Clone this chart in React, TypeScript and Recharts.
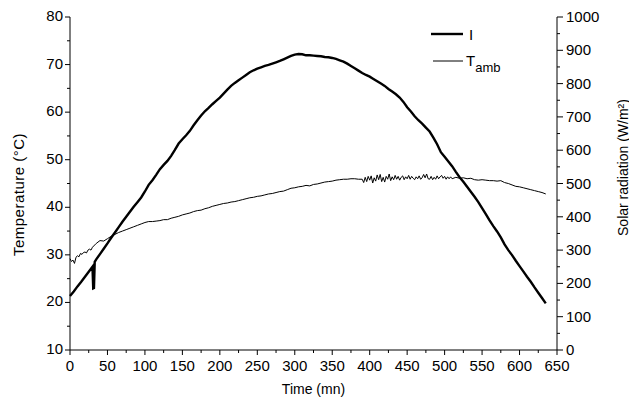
import { LineChart, Line, XAxis, YAxis, Label, Legend } from 'recharts';

const FONT = '"Liberation Sans", Arial, sans-serif';

// solar radiation I (W/m2), right axis
const I_TIME = [
  0, 5, 10, 15, 20, 25, 30, 31, 32, 33,
  35, 40, 45, 50, 55, 60, 65, 70, 75, 80,
  85, 90, 95, 100, 105, 110, 115, 120, 125, 130,
  135, 140, 145, 150, 155, 160, 165, 170, 175, 180,
  185, 190, 195, 200, 205, 210, 215, 220, 225, 230,
  235, 240, 245, 250, 255, 260, 265, 270, 275, 280,
  285, 290, 295, 300, 305, 310, 315, 320, 325, 330,
  335, 340, 345, 350, 355, 360, 365, 370, 375, 380,
  385, 390, 395, 400, 405, 410, 415, 420, 425, 430,
  435, 440, 445, 450, 455, 460, 465, 470, 475, 480,
  485, 490, 495, 500, 505, 510, 515, 520, 525, 530,
  535, 540, 545, 550, 555, 560, 565, 570, 575, 580,
  585, 590, 595, 600, 605, 610, 615, 620, 625, 630,
  635,
];
const IRRADIANCE = [
  162, 176, 191, 205, 220, 235, 250, 185, 186, 265,
  272, 288, 304, 320, 337, 353, 369, 385, 400, 415,
  430, 444, 458, 476, 496, 510, 526, 543, 556, 568,
  583, 601, 620, 633, 645, 658, 675, 690, 704, 717,
  727, 738, 748, 758, 770, 782, 793, 802, 810, 818,
  826, 834, 840, 845, 849, 853, 856, 860, 864, 868,
  873, 878, 883, 887, 889, 888, 885, 885, 884, 883,
  882, 880, 879, 877, 874, 870, 866, 860, 853, 846,
  839, 832, 826, 821, 814, 807, 800, 793, 784, 776,
  768, 758, 745, 729, 716, 702, 690, 680, 668, 656,
  638, 618, 594, 580, 566, 552, 535, 519, 505, 490,
  475, 460, 444, 426, 408, 389, 372, 356, 338, 317,
  300, 285, 268, 252, 236, 220, 205, 188, 172, 156,
  140,
];

// ambient temperature T_amb (°C), left axis
const TAMB_TIME = [
  0, 2, 4, 6, 8, 10, 12, 14, 16, 18,
  20, 22, 24, 26, 28, 30, 35, 40, 45, 50,
  55, 60, 65, 70, 75, 80, 85, 90, 95, 100,
  105, 110, 115, 120, 125, 130, 135, 140, 145, 150,
  155, 160, 165, 170, 175, 180, 185, 190, 195, 200,
  205, 210, 215, 220, 225, 230, 235, 240, 245, 250,
  255, 260, 265, 270, 275, 280, 285, 290, 295, 300,
  305, 310, 315, 320, 325, 330, 335, 340, 345, 350,
  355, 360, 365, 370, 375, 380, 385, 390, 392, 394,
  396, 398, 400, 402, 404, 406, 408, 410, 412, 414,
  416, 418, 420, 422, 424, 426, 428, 430, 432, 434,
  436, 438, 440, 442, 444, 446, 448, 450, 452, 454,
  456, 458, 460, 462, 464, 466, 468, 470, 472, 474,
  476, 478, 480, 482, 484, 486, 488, 490, 492, 494,
  496, 498, 500, 502, 504, 506, 508, 510, 515, 520,
  525, 530, 535, 540, 545, 550, 555, 560, 565, 570,
  575, 580, 585, 590, 595, 600, 605, 610, 615, 620,
  625, 630, 635,
];
const T_AMB = [
  29.2, 28.6, 28.9, 28.2, 29.5, 29.8, 29.6, 30.3, 30.1, 30.5,
  30.6, 30.4, 31.0, 31.2, 31.0, 31.6, 32.4, 33.0, 32.9, 33.4,
  33.9, 34.3, 34.7, 35.0, 35.3, 35.6, 35.9, 36.2, 36.5, 36.8,
  37.0, 37.0, 37.1, 37.2, 37.4, 37.4, 37.7, 37.9, 38.1, 38.4,
  38.6, 38.8, 39.1, 39.3, 39.4, 39.7, 39.9, 40.2, 40.4, 40.6,
  40.8, 40.9, 41.1, 41.2, 41.4, 41.6, 41.8, 42.0, 42.1, 42.3,
  42.4, 42.6, 42.8, 42.9, 43.1, 43.3, 43.4, 43.7, 44.0, 44.1,
  44.3, 44.4, 44.6, 44.5, 44.8, 44.9, 45.1, 45.3, 45.4, 45.5,
  45.7, 45.8, 45.9, 45.9, 46.0, 46.0, 45.9, 45.9, 45.2, 46.3,
  45.4, 46.5, 45.7, 46.6, 45.1, 46.2, 45.5, 46.8, 45.8, 46.9,
  45.4, 46.3, 45.3, 46.5, 45.9, 47.0, 45.6, 46.4, 45.8, 46.7,
  45.9, 46.5, 45.7, 46.3, 46.6, 45.8, 46.4, 46.0, 46.7, 45.9,
  46.5, 46.1, 45.8, 46.4, 46.0, 46.6, 45.9, 46.2, 46.9, 46.2,
  47.0, 46.0, 45.9, 46.5, 45.8, 46.3, 45.9, 46.6, 46.0, 46.4,
  46.7, 46.1, 46.5, 45.9, 46.4, 46.0, 46.4, 46.0, 46.3, 46.1,
  46.2, 46.0, 46.1, 45.8, 45.7, 45.8, 45.7, 45.6, 45.6, 45.5,
  45.6, 45.2, 45.0, 44.7, 44.4, 44.3, 44.1, 43.9, 43.7, 43.5,
  43.3, 43.1, 42.8,
];

const X_TICKS = [
  0, 25, 50, 75, 100, 125, 150, 175, 200, 225, 250, 275, 300, 325,
  350, 375, 400, 425, 450, 475, 500, 525, 550, 575, 600, 625, 650,
];
const TEMP_TICKS = [10, 15, 20, 25, 30, 35, 40, 45, 50, 55, 60, 65, 70, 75, 80];
const RAD_TICKS = [
  0, 50, 100, 150, 200, 250, 300, 350, 400, 450, 500,
  550, 600, 650, 700, 750, 800, 850, 900, 950, 1000,
];

const irradianceRows = I_TIME.map((t, i) => ({ t, I: IRRADIANCE[i] }));
const ambientRows = TAMB_TIME.map((t, i) => ({ t, Tamb: T_AMB[i] }));

// ticks are drawn by hand so minor ticks can be shorter and unlabelled
function BottomTick({ x, y, payload }: any) {
  const major = payload.value % 50 === 0;
  return (
    <g>
      <line x1={x} y1={y} x2={x} y2={y + (major ? 5 : 3)} stroke="#000" />
      {major && (
        <text x={x} y={y + 21} textAnchor="middle" fontSize={15} fill="#000" fontFamily={FONT}>
          {payload.value}
        </text>
      )}
    </g>
  );
}

function TopTick({ x, y, payload }: any) {
  const major = payload.value % 50 === 0;
  return <line x1={x} y1={y} x2={x} y2={y + (major ? 3 : 2)} stroke="#000" />;
}

function LeftTick({ x, y, payload }: any) {
  const major = payload.value % 10 === 0;
  return (
    <g>
      <line x1={x} y1={y} x2={x - (major ? 5 : 3)} y2={y} stroke="#000" />
      {major && (
        <text x={x - 7} y={y + 4} textAnchor="end" fontSize={15} fill="#000" fontFamily={FONT}>
          {payload.value}
        </text>
      )}
    </g>
  );
}

function RightTick({ x, y, payload }: any) {
  const major = payload.value % 100 === 0;
  return (
    <g>
      <line x1={x} y1={y} x2={x + (major ? 6 : 3)} y2={y} stroke="#000" />
      {major && (
        <text x={x + 9} y={y + 5} textAnchor="start" fontSize={15} fill="#000" fontFamily={FONT}>
          {payload.value}
        </text>
      )}
    </g>
  );
}

function LegendBox() {
  return (
    <svg width={90} height={60} style={{ fontFamily: FONT }}>
      <line x1={3} y1={8} x2={35} y2={8} stroke="#000" strokeWidth={2.4} />
      <text x={41} y={14} fontSize={15} fill="#000">I</text>
      <line x1={5} y1={35} x2={35} y2={35} stroke="#000" strokeWidth={1} />
      <text x={38} y={40} fontSize={15} fill="#000">
        T<tspan fontSize={13} dy={6}>amb</tspan>
      </text>
    </svg>
  );
}

export default function App() {
  return (
    <div style={{ width: 629, height: 393 }}>
      <LineChart
        width={629}
        height={393}
        margin={{ top: 9, right: 0, bottom: 0, left: 0 }}
        style={{ fontFamily: FONT }}
      >
        <XAxis
          dataKey="t"
          type="number"
          domain={[0, 650]}
          ticks={X_TICKS}
          interval={0}
          height={51}
          tickSize={0}
          tickMargin={0}
          tickLine={false}
          tick={<BottomTick />}
          axisLine={{ stroke: '#000' }}
          allowDuplicatedCategory={false}
        >
          <Label value="Time (mn)" position="center" dy={14} fontSize={14} fill="#000" />
        </XAxis>
        <XAxis
          xAxisId="top"
          orientation="top"
          dataKey="t"
          type="number"
          domain={[0, 650]}
          ticks={X_TICKS}
          interval={0}
          height={0}
          tickSize={0}
          tickMargin={0}
          tickLine={false}
          tick={<TopTick />}
          axisLine={{ stroke: '#000' }}
        />
        <YAxis
          yAxisId="left"
          orientation="left"
          type="number"
          domain={[10, 80]}
          ticks={TEMP_TICKS}
          interval={0}
          width={62}
          tickSize={0}
          tickMargin={0}
          tickLine={false}
          tick={<LeftTick />}
          axisLine={{ stroke: '#000' }}
        >
          <Label
            value="Temperature (°C)"
            position="center"
            angle={-90}
            dx={-20}
            dy={11}
            fontSize={15}
            fill="#000"
            style={{ letterSpacing: 0.5 }}
          />
        </YAxis>
        <YAxis
          yAxisId="right"
          orientation="right"
          type="number"
          domain={[0, 1000]}
          ticks={RAD_TICKS}
          interval={0}
          width={80}
          tickSize={0}
          tickMargin={0}
          tickLine={false}
          tick={<RightTick />}
          axisLine={{ stroke: '#000' }}
        >
          <Label
            value="Solar radiation (W/m²)"
            position="center"
            angle={-90}
            dx={26}
            dy={-16}
            fontSize={14}
            fill="#000"
          />
        </YAxis>
        <Legend
          layout="horizontal"
          verticalAlign="middle"
          align="center"
          wrapperStyle={{ position: 'absolute', left: 420, top: 18, width: 90, height: 60 }}
          content={() => <LegendBox />}
        />
        <Line
          data={irradianceRows}
          yAxisId="right"
          dataKey="I"
          name="I"
          type="linear"
          stroke="#000"
          strokeWidth={2.4}
          dot={false}
          activeDot={false}
          isAnimationActive={false}
        />
        <Line
          data={ambientRows}
          yAxisId="left"
          dataKey="Tamb"
          name="Tamb"
          type="linear"
          stroke="#000"
          strokeWidth={1}
          dot={false}
          activeDot={false}
          isAnimationActive={false}
        />
      </LineChart>
    </div>
  );
}
